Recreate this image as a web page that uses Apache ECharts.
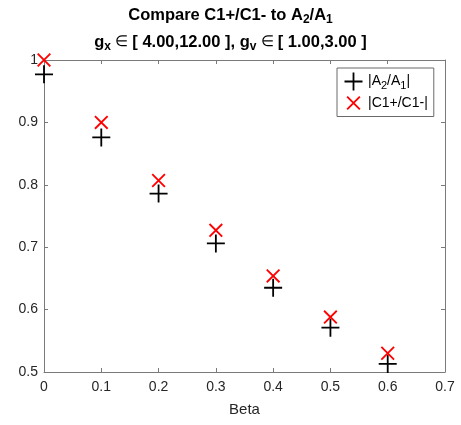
<!DOCTYPE html>
<html>
<head>
<meta charset="utf-8">
<script src="https://cdn.jsdelivr.net/npm/echarts@6/dist/echarts.min.js"></script>
<style>
  html, body { margin: 0; padding: 0; background: #fff; }
  #chart { width: 461px; height: 425px; }
</style>
</head>
<body>
<div id="chart"></div>
<script>
// Beta values on the horizontal axis
const beta = [0, 0.1, 0.2, 0.3, 0.4, 0.5, 0.6];
// |A2/A1| ratio for each beta
const ratioA = [0.977, 0.876, 0.786, 0.706, 0.635, 0.571, 0.513];
// |C1+/C1-| ratio for each beta
const ratioC = [1.0, 0.900, 0.807, 0.727, 0.654, 0.588, 0.530];
// Axis tick values
const xTicks = [0, 0.1, 0.2, 0.3, 0.4, 0.5, 0.6, 0.7];
const yTicks = [0.5, 0.6, 0.7, 0.8, 0.9, 1];

const FONT = '"Liberation Sans", Arial, Helvetica, sans-serif';
const AXIS_LINE = '#7a7a7a';
const TEXT = '#262626';

// Marker shapes: a plus and a cross built from thin bars
const plusPath = 'path://M0,8.1L18,8.1L18,9.9L0,9.9Z M8.1,0L9.9,0L9.9,18L8.1,18Z';
const crossPath = 'path://M0,1.3L1.3,0L14,12.7L12.7,14Z M12.7,0L14,1.3L1.3,14L0,12.7Z';
// Legend icons share one box size, so the smaller ones carry an invisible margin
const plusLegend = 'path://M-0.5,-0.5L-0.49,-0.5L-0.5,-0.49Z M18.5,18.5L18.49,18.5L18.5,18.49Z M0,8.1L18,8.1L18,9.9L0,9.9Z M8.1,0L9.9,0L9.9,18L8.1,18Z';
const crossLegend = 'path://M-2.5,-2.5L-2.49,-2.5L-2.5,-2.49Z M16.5,16.5L16.49,16.5L16.5,16.49Z M0,1.3L1.3,0L14,12.7L12.7,14Z M12.7,0L14,1.3L1.3,14L0,12.7Z';

const fmt = v => String(+(+v).toFixed(1));

const chart = echarts.init(document.getElementById('chart'), null, { renderer: 'canvas' });

const subRich = {
  b: { fontFamily: FONT, fontSize: 16.5, fontWeight: 'bold', color: '#000', lineHeight: 22, verticalAlign: 'middle' },
  e: { fontFamily: FONT, fontSize: 15, fontWeight: 'normal', color: '#000', lineHeight: 22, verticalAlign: 'middle' },
  s: { fontFamily: FONT, fontSize: 12, fontWeight: 'bold', color: '#000', lineHeight: 12, verticalAlign: 'bottom' }
};
const legRich = {
  n: { fontFamily: FONT, fontSize: 14, color: '#000', lineHeight: 20, verticalAlign: 'middle' },
  s: { fontFamily: FONT, fontSize: 11, color: '#000', lineHeight: 11, verticalAlign: 'bottom' }
};

const option = {
  backgroundColor: '#fff',
  animation: false,
  title: [
    {
      text: '{b|Compare C1+/C1- to A}{s|2}{b|/A}{s|1}',
      left: 'center', top: -1,
      textStyle: { rich: subRich }
    },
    {
      text: '{b|g}{s|x}{e| ∈ }{b|[ 4.00,12.00 ], g}{s|v}{e| ∈ }{b|[ 1.00,3.00 ]}',
      left: 'center', top: 26,
      textStyle: { rich: subRich }
    }
  ],
  grid: { left: 44, right: 16, top: 60, bottom: 53, containLabel: false },
  legend: {
    orient: 'vertical',
    left: 337, top: 68,
    width: 98,
    padding: [4, 6, 4, 7],
    itemGap: 2,
    itemWidth: 19, itemHeight: 19,
    borderColor: '#6a6a6a', borderWidth: 1,
    backgroundColor: '#fff',
    data: [
      { name: 'A', icon: plusLegend },
      { name: 'C', icon: crossLegend }
    ],
    formatter: name => name === 'A'
      ? '{n||A}{s|2}{n|/A}{s|1}{n||}'
      : '{n||C1+/C1-|}',
    textStyle: { rich: legRich }
  },
  xAxis: [
    {
      type: 'value', min: 0, max: 0.7, interval: 0.1,
      name: 'Beta', nameLocation: 'middle', nameGap: 30,
      nameTextStyle: { fontFamily: FONT, fontSize: 15, color: TEXT },
      axisLine: { show: true, onZero: false, lineStyle: { color: AXIS_LINE, width: 1 } },
      axisTick: { show: true, inside: true, length: 4, lineStyle: { color: AXIS_LINE } },
      axisLabel: { fontFamily: FONT, fontSize: 14, color: TEXT, margin: 8, formatter: fmt, showMinLabel: true, showMaxLabel: true },
      splitLine: { show: false }
    },
    {
      type: 'value', min: 0, max: 0.7, interval: 0.1, position: 'top',
      axisLine: { show: true, onZero: false, lineStyle: { color: AXIS_LINE, width: 1 } },
      axisTick: { show: true, inside: true, length: 4, lineStyle: { color: AXIS_LINE } },
      axisLabel: { show: false },
      splitLine: { show: false }
    }
  ],
  yAxis: [
    {
      type: 'value', min: 0.5, max: 1, interval: 0.1,
      axisLine: { show: true, onZero: false, lineStyle: { color: AXIS_LINE, width: 1 } },
      axisTick: { show: true, inside: true, length: 4, lineStyle: { color: AXIS_LINE } },
      axisLabel: { fontFamily: FONT, fontSize: 14, color: TEXT, margin: 6, formatter: fmt, showMinLabel: true, showMaxLabel: true },
      splitLine: { show: false }
    },
    {
      type: 'value', min: 0.5, max: 1, interval: 0.1, position: 'right',
      axisLine: { show: true, onZero: false, lineStyle: { color: AXIS_LINE, width: 1 } },
      axisTick: { show: true, inside: true, length: 4, lineStyle: { color: AXIS_LINE } },
      axisLabel: { show: false },
      splitLine: { show: false }
    }
  ],
  series: [
    {
      name: 'A', type: 'scatter', clip: false, z: 3,
      symbol: plusPath, symbolSize: 18,
      itemStyle: { color: '#000', opacity: 1 },
      data: beta.map((b, i) => [b, ratioA[i]])
    },
    {
      name: 'C', type: 'scatter', clip: false, z: 4,
      symbol: crossPath, symbolSize: 14,
      itemStyle: { color: '#ff0000', opacity: 1 },
      data: beta.map((b, i) => [b, ratioC[i]])
    }
  ]
};

chart.setOption(option);
</script>
</body>
</html>
